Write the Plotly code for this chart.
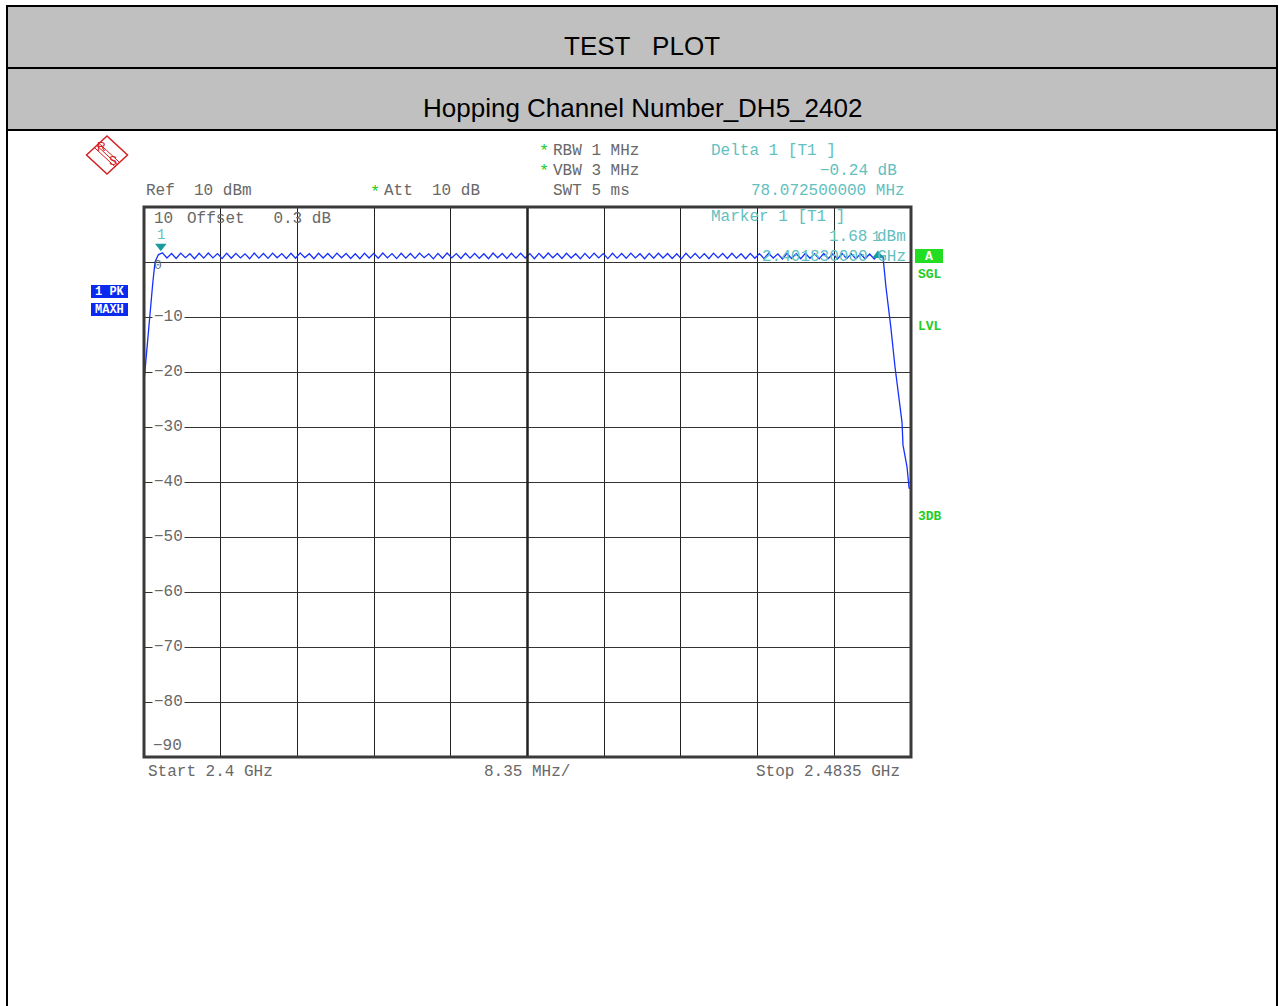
import plotly.graph_objects as go

# ---------------- data ----------------
START_MHZ = 2400.0
STOP_MHZ = 2483.5
SPAN_DIV_MHZ = 8.35
REF_DBM = 10
Y_BOTTOM = -90
Y_TICKS = [10, 0, -10, -20, -30, -40, -50, -60, -70, -80, -90]

# band edge rise (MHz, dBm)
rise_f = [2400.0, 2400.29, 2400.58, 2400.95, 2401.2, 2401.56]
rise_db = [-21.8, -16.0, -9.9, -3.9, 0.0, 1.3]

# hopping channels (MHz)
channels = list(range(2402, 2481))
peak_db = [1.68, 1.55, 1.62, 1.50, 1.58, 1.64, 1.52, 1.60, 1.57, 1.49,
           1.63, 1.55, 1.61, 1.53, 1.58, 1.66, 1.51, 1.59, 1.54, 1.62,
           1.56, 1.50, 1.60, 1.57, 1.63, 1.52, 1.58, 1.55, 1.61, 1.49,
           1.57, 1.64, 1.53, 1.59, 1.56, 1.51, 1.62, 1.55, 1.58, 1.60,
           1.52, 1.57, 1.63, 1.54, 1.59, 1.50, 1.56, 1.61, 1.53, 1.58,
           1.55, 1.62, 1.51, 1.57, 1.60, 1.54, 1.49, 1.59, 1.56, 1.52,
           1.61, 1.55, 1.58, 1.50, 1.57, 1.53, 1.60, 1.48, 1.56, 1.52,
           1.58, 1.50, 1.55, 1.47, 1.53, 1.49, 1.51, 1.46, 1.44]
trough_db = [0.72, 0.65, 0.78, 0.60, 0.70, 0.75, 0.62, 0.68, 0.74, 0.58,
             0.71, 0.66, 0.77, 0.63, 0.69, 0.80, 0.61, 0.73, 0.67, 0.76,
             0.64, 0.59, 0.72, 0.68, 0.75, 0.62, 0.70, 0.66, 0.78, 0.57,
             0.69, 0.74, 0.63, 0.71, 0.67, 0.60, 0.76, 0.65, 0.70, 0.73,
             0.61, 0.68, 0.77, 0.64, 0.72, 0.58, 0.66, 0.75, 0.62, 0.70,
             0.67, 0.74, 0.60, 0.69, 0.73, 0.63, 0.57, 0.71, 0.66, 0.61,
             0.75, 0.64, 0.70, 0.59, 0.68, 0.62, 0.72, 0.56, 0.65, 0.60,
             0.69, 0.58, 0.64, 0.55, 0.62, 0.57, 0.60, 0.54]

# band edge fall (MHz, dBm)
fall_f = [2480.45, 2480.77, 2481.1, 2481.3, 2481.76, 2482.08, 2482.52,
          2482.63, 2483.07, 2483.29, 2483.5]
fall_db = [1.0, -4.5, -8.7, -11.8, -19.1, -23.8, -29.1, -33.3, -37.3,
           -41.1, -41.2]

# markers
marker1_mhz = 2401.83
marker1_dbm = 1.68
delta1_mhz = 78.0725
delta1_db = -0.24

# ---------------- build trace ----------------
tr_x = list(rise_f)
tr_y = list(rise_db)
for i, ch in enumerate(channels):
    tr_x.append(ch)
    tr_y.append(peak_db[i])
    if i < len(trough_db):
        tr_x.append(ch + 0.5)
        tr_y.append(trough_db[i])
tr_x += fall_f
tr_y += fall_db

# ---------------- layout helpers ----------------
W, H = 1279, 1006
def px(X):
    return X / W
def py(Y):
    return 1 - Y / H

MONO = "Liberation Mono, Courier New, monospace"
SANS = "Liberation Sans, Arial, sans-serif"
GRAY = "#686868"
TEAL = "#62c0c0"
GREEN = "#22cc22"
NB = "\u00a0"

fig = go.Figure()
fig.add_trace(go.Scatter(x=tr_x, y=tr_y, mode="lines",
                         line=dict(color="#1630ff", width=1.3),
                         hoverinfo="skip", showlegend=False))

# marker triangles (offset above/below the trace in dB for drawing)
PX_PER_DB = 550 / 100.0
d_mhz = marker1_mhz + delta1_mhz
d_dbm = marker1_dbm + delta1_db
fig.add_trace(go.Scatter(x=[marker1_mhz], y=[marker1_dbm + 6.5 / PX_PER_DB],
                         mode="markers",
                         marker=dict(symbol="triangle-down", size=10, color="#1a9c9c"),
                         hoverinfo="skip", showlegend=False))
fig.add_trace(go.Scatter(x=[d_mhz], y=[d_dbm - 1.5 / PX_PER_DB],
                         mode="markers",
                         marker=dict(symbol="triangle-up", size=10, color="#1a9c9c"),
                         hoverinfo="skip", showlegend=False))

shapes = []
annots = []

def txt(X, Y, s, color=GRAY, anchor="left", size=16, font=MONO, bold=False, bg=None):
    a = dict(x=px(X), y=py(Y), xref="paper", yref="paper", text=s,
             showarrow=False, xanchor=anchor, yanchor="middle",
             font=dict(family=font, size=size, color=color,
                       weight="bold" if bold else "normal"),
             borderpad=0)
    if bg:
        a["bgcolor"] = bg
    annots.append(a)

# header bands
for y0, y1 in [(6, 68), (68, 130)]:
    shapes.append(dict(type="rect", xref="paper", yref="paper",
                       x0=px(7), x1=px(1277), y0=py(y1), y1=py(y0),
                       fillcolor="#c0c0c0", line=dict(color="black", width=2)))
for X in [7, 1277]:
    shapes.append(dict(type="line", xref="paper", yref="paper",
                       x0=px(X), x1=px(X), y0=py(130), y1=py(1006),
                       line=dict(color="black", width=2)))
txt(642, 46, "TEST" + NB * 3 + "PLOT", color="black", anchor="center", size=26, font=SANS)
txt(642, 108, "Hopping Channel Number_DH5_2402", color="black", anchor="center",
    size=26, font=SANS)

# R&S logo
cx, cy = 107, 155
shapes.append(dict(type="path", xref="paper", yref="paper",
                   path=f"M {px(cx-20.5)},{py(cy)} L {px(cx)},{py(cy-19)} L {px(cx+20.5)},{py(cy)} L {px(cx)},{py(cy+19)} Z",
                   line=dict(color="#d42020", width=1.5), fillcolor="rgba(0,0,0,0)"))
for off in [-2.2, 0, 2.2]:
    shapes.append(dict(type="line", xref="paper", yref="paper",
                       x0=px(cx - 10.25 + off), y0=py(cy - 9.5 - off),
                       x1=px(cx + 10.25 + off), y1=py(cy + 9.5 - off),
                       line=dict(color="#d42020", width=1)))
txt(101, 147, "R", color="#d42020", anchor="center", size=12, font="Liberation Sans")
txt(113, 161, "S", color="#d42020", anchor="center", size=12, font="Liberation Sans")

# settings text
txt(145, 191, "Ref" + NB * 2 + "10 dBm")
txt(375, 192, "*", color=GREEN, anchor="center", size=17)
txt(383, 191, "Att" + NB * 2 + "10 dB")
txt(544, 152, "*", color=GREEN, anchor="center", size=17)
txt(552, 151, "RBW 1 MHz")
txt(544, 172, "*", color=GREEN, anchor="center", size=17)
txt(552, 171, "VBW 3 MHz")
txt(552, 191, "SWT 5 ms")
txt(710, 151, "Delta 1 [T1 ]", color=TEAL)
txt(898, 171, f"{delta1_db:.2f} dB".replace("-", "\u2212"), color=TEAL, anchor="right")
txt(906, 191, f"{delta1_mhz:.9f} MHz", color=TEAL, anchor="right")
txt(710, 217, "Marker 1 [T1 ]", color=TEAL)
txt(907, 237, f"{marker1_dbm:.2f} dBm", color=TEAL, anchor="right")
txt(907, 257, f"{marker1_mhz/1000:.9f} GHz", color=TEAL, anchor="right")
txt(186, 219, "Offset" + NB * 3 + "0.3 dB")

# marker labels
annots.append(dict(x=marker1_mhz, y=marker1_dbm, xref="x", yref="y", text="1",
                   showarrow=False, yshift=18, font=dict(family=MONO, size=14, color=TEAL)))
annots.append(dict(x=d_mhz, y=d_dbm, xref="x", yref="y", text="1",
                   showarrow=False, yshift=17, xshift=-2, font=dict(family=MONO, size=14, color=TEAL)))

# y labels inside plot
for v in Y_TICKS:
    if v == REF_DBM:
        txt(153, 219, str(v))
    elif v == Y_BOTTOM:
        txt(152, 746, "\u2212" + str(-v))
    elif v == 0:
        txt(158, 266, "0", anchor="center", size=13)
    else:
        annots.append(dict(x=px(152), y=v, xref="paper", yref="y",
                           text="\u2212" + str(-v), showarrow=False, xanchor="left",
                           yanchor="middle", bgcolor="white", borderpad=1,
                           font=dict(family=MONO, size=16, color=GRAY)))

# side labels
for (y0, y1, label) in [(285, 298, "1 PK"), (303, 316, "MAXH")]:
    shapes.append(dict(type="rect", xref="paper", yref="paper",
                       x0=px(91), x1=px(128), y0=py(y1), y1=py(y0),
                       fillcolor="#0a2af0", line=dict(width=0)))
    txt(109.5, (y0 + y1) / 2 + 0.5, label.replace(" ", NB), color="white", anchor="center",
        size=12, bold=True)
shapes.append(dict(type="rect", xref="paper", yref="paper",
                   x0=px(915), x1=px(943), y0=py(263), y1=py(249),
                   fillcolor="#22dd22", line=dict(width=0)))
txt(929, 256.5, "A", color="white", anchor="center", size=13, bold=True)
txt(917, 274, "SGL", color=GREEN, size=13, bold=True)
txt(917, 326, "LVL", color=GREEN, size=13, bold=True)
txt(917, 516, "3DB", color=GREEN, size=13, bold=True)

# bottom
txt(147, 772, "Start 2.4 GHz")
txt(483, 772, f"{SPAN_DIV_MHZ:.2f} MHz/")
txt(901, 772, "Stop 2.4835 GHz", anchor="right")

# plot frame and center line
shapes.append(dict(type="line", xref="x", yref="y domain",
                   x0=(START_MHZ + STOP_MHZ) / 2, x1=(START_MHZ + STOP_MHZ) / 2,
                   y0=0, y1=1, line=dict(color="#222", width=2.5)))
shapes.append(dict(type="rect", xref="x domain", yref="y domain",
                   x0=0, x1=1, y0=0, y1=1, line=dict(color="#3a3a3a", width=3)))

fig.update_layout(
    width=W, height=H, margin=dict(l=0, r=0, t=0, b=0),
    paper_bgcolor="white", plot_bgcolor="white",
    showlegend=False, shapes=shapes, annotations=annots,
    xaxis=dict(domain=[px(144), px(911)], range=[START_MHZ, STOP_MHZ],
               tick0=START_MHZ, dtick=SPAN_DIV_MHZ, showgrid=True,
               gridcolor="#222", gridwidth=1, showticklabels=False,
               ticks="", zeroline=False, showline=False, fixedrange=True),
    yaxis=dict(domain=[py(757), py(207)], range=[Y_BOTTOM, REF_DBM],
               tick0=0, dtick=10, showgrid=True, gridcolor="#333",
               gridwidth=1, showticklabels=False, ticks="",
               zeroline=False, showline=False, fixedrange=True),
)

fig.write_html("out.html", config=dict(displayModeBar=False),
               post_script="document.body.style.margin='0';document.body.style.overflow='hidden';")
